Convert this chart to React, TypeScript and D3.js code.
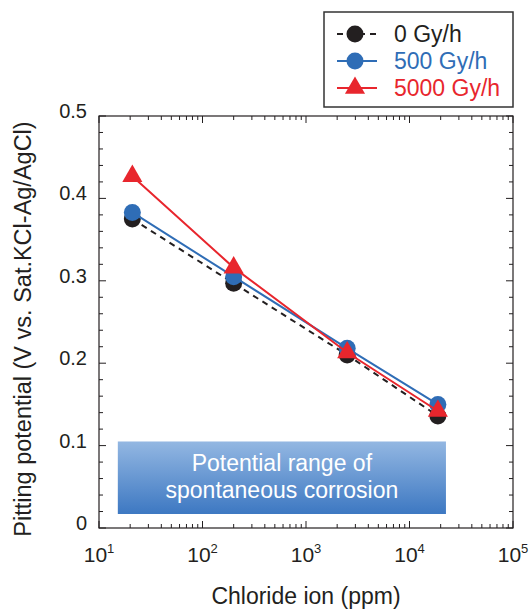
import React from 'react';
import * as d3 from 'd3';

const chloride = [21, 200, 2500, 18800];
const dose0 = [0.375, 0.297, 0.21, 0.136];
const dose500 = [0.383, 0.305, 0.218, 0.15];
const dose5000 = [0.427, 0.316, 0.213, 0.142];
const seriesNames = ['0 Gy/h', '500 Gy/h', '5000 Gy/h'];
const xTickExps = [1, 2, 3, 4, 5];
const yTicks = [0, 0.1, 0.2, 0.3, 0.4, 0.5];
const corrosionRange = { x0: 15.2, x1: 22500, y0: 0.017, y1: 0.105 };
const corrosionLabel = ['Potential range of', 'spontaneous corrosion'];

const W = 529, H = 610;
const margin = { top: 116, right: 16, bottom: 82, left: 99 };
const font = 'Liberation Sans, Arial, Helvetica, sans-serif';

const App = () => {
    const width = W - margin.left - margin.right;
    const height = H - margin.top - margin.bottom;

    const x = d3.scaleLog().domain([10, 1e5]).range([0, width]);
    const y = d3.scaleLinear().domain([0, 0.5]).range([height, 0]);

    const series = [
        { name: seriesNames[0], values: dose0, color: '#231f20', dash: '6,5', marker: 'circle' },
        { name: seriesNames[1], values: dose500, color: '#2f6db6', dash: null, marker: 'circle' },
        { name: seriesNames[2], values: dose5000, color: '#e8262d', dash: null, marker: 'triangle' },
    ];

    const line = d3.line<number>().x((d, i) => x(chloride[i])).y((d) => y(d));
    const tri = d3.symbol().type(d3.symbolTriangle).size(175)();

    // minor ticks
    const xMinor: number[] = [];
    for (let e = 1; e < 5; e++) for (let k = 2; k < 10; k++) xMinor.push(k * Math.pow(10, e));
    const yMinor = d3.range(0, 0.501, 0.02).filter((v) => Math.abs(v * 10 - Math.round(v * 10)) > 1e-6);

    const marker = (s: any, cx: number, cy: number, key: string) =>
        s.marker === 'circle'
            ? <circle key={key} cx={cx} cy={cy} r={8.5} fill={s.color} />
            : <path key={key} d={tri!} transform={`translate(${cx},${cy})`} fill={s.color} />;

    return (
        <svg width={W} height={H} style={{ position: 'absolute', left: 0, top: 0 }} fontFamily={font}>
            <defs>
                <linearGradient id="corr" x1="0" y1="0" x2="0" y2="1">
                    <stop offset="0%" stopColor="#93b7e2" />
                    <stop offset="100%" stopColor="#3d78c2" />
                </linearGradient>
            </defs>
            <g transform={`translate(${margin.left},${margin.top})`}>
                <rect
                    x={x(corrosionRange.x0)}
                    y={y(corrosionRange.y1)}
                    width={x(corrosionRange.x1) - x(corrosionRange.x0)}
                    height={y(corrosionRange.y0) - y(corrosionRange.y1)}
                    fill="url(#corr)"
                />
                {corrosionLabel.map((t, i) => (
                    <text key={t} x={(x(corrosionRange.x0) + x(corrosionRange.x1)) / 2} y={y(corrosionRange.y1) + 30 + i * 27}
                        textAnchor="middle" fill="#fff" fontSize={23}>{t}</text>
                ))}

                <rect x={0} y={0} width={width} height={height} fill="none" stroke="#231f20" strokeWidth={1.2} />

                {/* x ticks, bottom and top */}
                {xTickExps.map((e) => {
                    const px = x(Math.pow(10, e));
                    return (
                        <g key={'xt' + e}>
                            <line x1={px} x2={px} y1={height} y2={height - 7} stroke="#231f20" />
                            <line x1={px} x2={px} y1={0} y2={7} stroke="#231f20" />
                            <text x={px} y={height + 34} textAnchor="middle" fontSize={21} fill="#231f20">
                                10<tspan dy={-9} fontSize={13}>{e}</tspan>
                            </text>
                        </g>
                    );
                })}
                {xMinor.map((v) => (
                    <g key={'xm' + v}>
                        <line x1={x(v)} x2={x(v)} y1={height} y2={height - 4} stroke="#231f20" />
                        <line x1={x(v)} x2={x(v)} y1={0} y2={4} stroke="#231f20" />
                    </g>
                ))}

                {/* y ticks, left and right */}
                {yTicks.map((v) => (
                    <g key={'yt' + v}>
                        <line x1={0} x2={7} y1={y(v)} y2={y(v)} stroke="#231f20" />
                        <line x1={width} x2={width - 7} y1={y(v)} y2={y(v)} stroke="#231f20" />
                        <text x={-12} y={y(v) + 2} textAnchor="end" fontSize={20} fill="#231f20">{v === 0 ? '0' : v.toFixed(1)}</text>
                    </g>
                ))}
                {yMinor.map((v) => (
                    <g key={'ym' + v}>
                        <line x1={0} x2={4} y1={y(v)} y2={y(v)} stroke="#231f20" />
                        <line x1={width} x2={width - 4} y1={y(v)} y2={y(v)} stroke="#231f20" />
                    </g>
                ))}

                {series.map((s) => (
                    <g key={s.name}>
                        <path d={line(s.values)!} fill="none" stroke={s.color} strokeWidth={2} strokeDasharray={s.dash || undefined} />
                        {s.values.map((v, i) => marker(s, x(chloride[i]), y(v), s.name + i))}
                    </g>
                ))}

                <text x={width / 2} y={height + 76} textAnchor="middle" fontSize={23} fill="#231f20">Chloride ion (ppm)</text>
                <text transform={`translate(${-68},${height / 2 + 7}) rotate(-90)`} textAnchor="middle" fontSize={23.5} fill="#231f20">
                    Pitting potential (V vs. Sat.KCl-Ag/AgCl)
                </text>
            </g>

            {/* legend */}
            <g transform="translate(324,12)">
                <rect x={0} y={0} width={189} height={95} fill="#fff" stroke="#333" strokeWidth={1.5} />
                {series.map((s, i) => {
                    const ly = 22 + i * 27;
                    return (
                        <g key={'lg' + s.name}>
                            <line x1={13} x2={53} y1={ly} y2={ly} stroke={s.color} strokeWidth={2} strokeDasharray={s.dash || undefined} />
                            {marker(s, 31, ly, 'lm' + i)}
                            <text x={70} y={ly + 8} fontSize={23} fill={s.color}>{s.name}</text>
                        </g>
                    );
                })}
            </g>
        </svg>
    );
};

export default App;
